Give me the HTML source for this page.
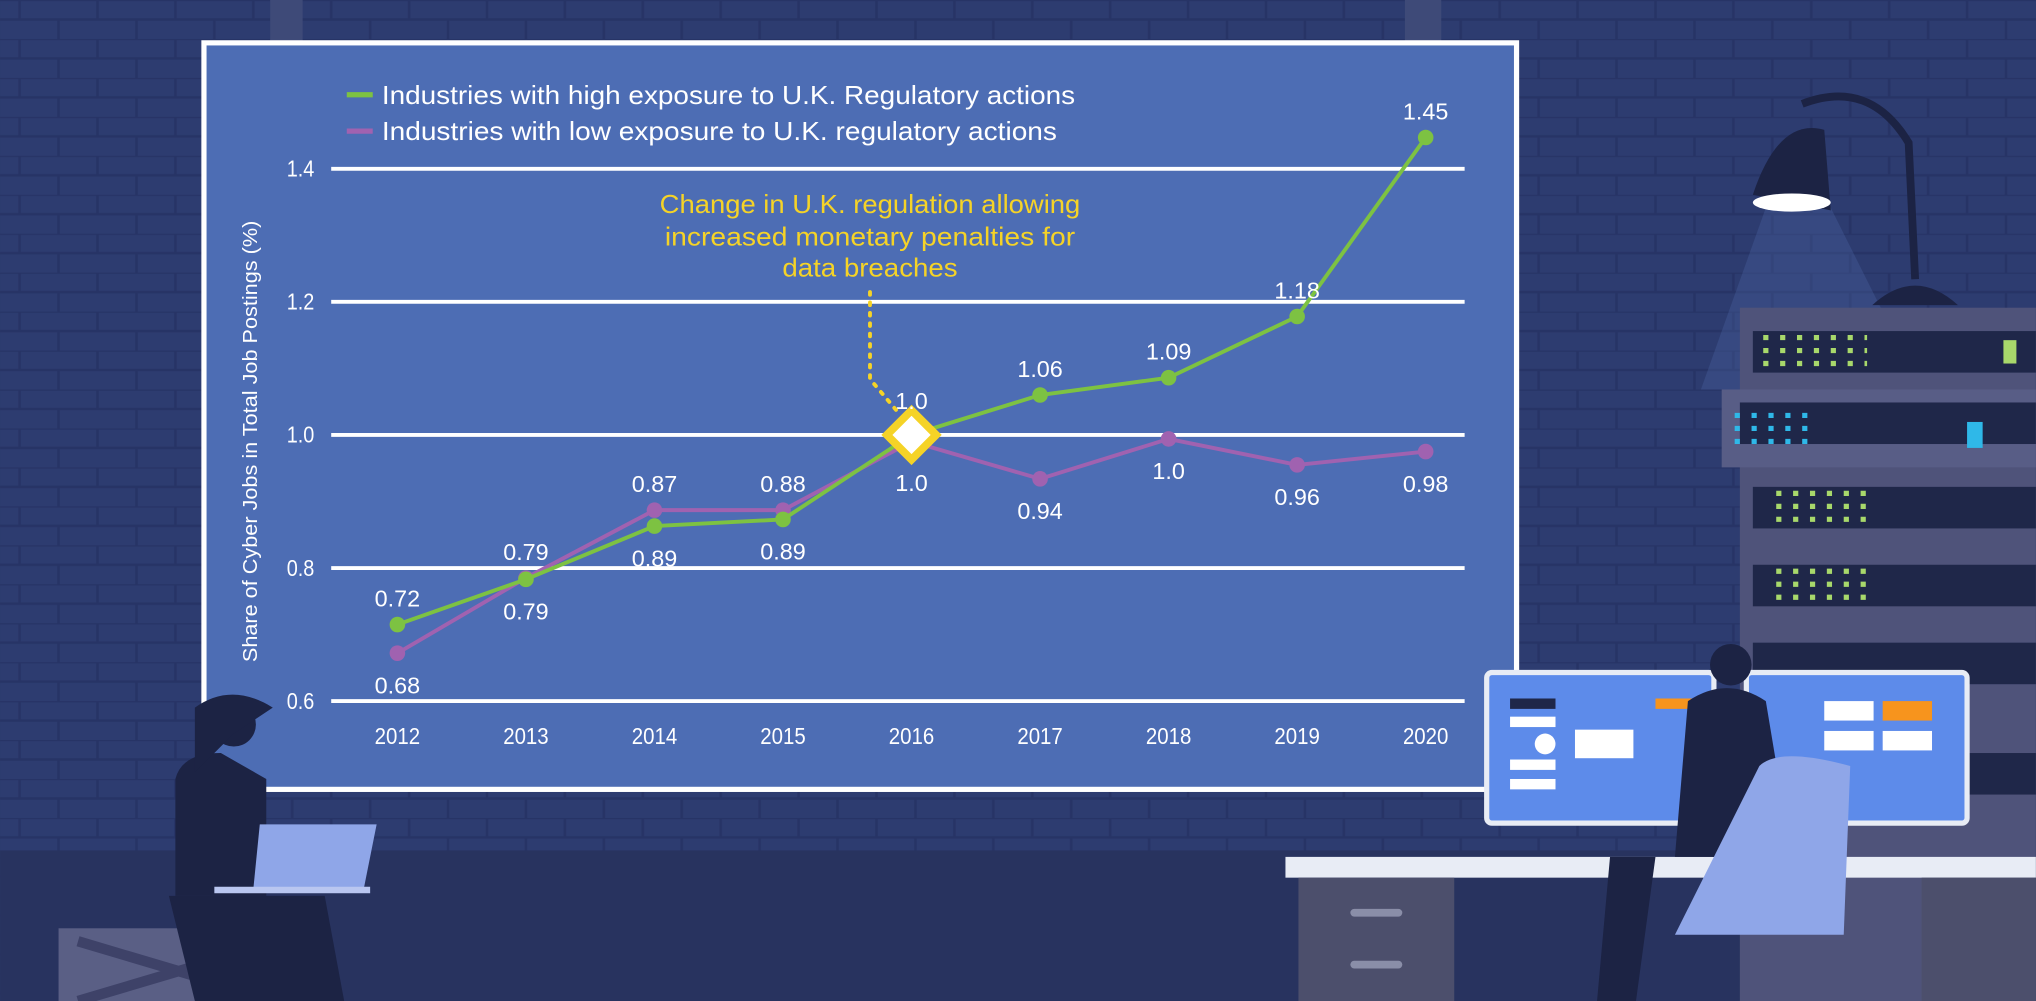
<!DOCTYPE html>
<html><head><meta charset="utf-8"><style>
html,body{margin:0;padding:0;background:#2a3868;}
svg{display:block;}
text{font-family:"Liberation Sans",sans-serif;}
</style></head><body>
<svg id="chart" width="2036" height="1001" viewBox="0 0 1568 771" xmlns="http://www.w3.org/2000/svg">
<defs>
<pattern id="bricks" width="60" height="30" patternUnits="userSpaceOnUse">
<rect width="60" height="30" fill="#2d3c70"/>
<path d="M0 0H60M0 15H60M15 0V15M45 15V30" stroke="#273466" stroke-width="2"/>
</pattern>
</defs>
<rect width="1568" height="771" fill="url(#bricks)"/>
<rect y="655" width="1568" height="116" fill="#28335f"/>
<rect x="208" y="0" width="25" height="34" fill="#3e4a78"/>
<rect x="1082" y="0" width="28" height="34" fill="#3e4a78"/>
<rect x="157" y="33" width="1011" height="575" fill="#4d6db4" stroke="#ffffff" stroke-width="4"/>
<g id="decor">
<path d="M1360 160 L1410 160 L1480 300 L1310 300 Z" fill="#4f6aa8" opacity="0.3"/>
<path d="M1388 80 Q1440 60 1470 110 L1475 215" fill="none" stroke="#1c2344" stroke-width="6"/>
<path d="M1350 150 Q1370 90 1405 100 L1410 162 Z" fill="#1c2344"/>
<ellipse cx="1380" cy="156" rx="30" ry="7" fill="#ffffff"/>
<path d="M1442 235 Q1475 205 1508 235 Z" fill="#1c2344"/>
<rect x="1340" y="237" width="228" height="534" fill="#4f537a"/>
<rect x="1326" y="300" width="242" height="60" fill="#585d86"/>
<rect x="1350" y="255" width="218" height="32" fill="#1f2749"/>
<rect x="1340" y="310" width="228" height="32" fill="#1f2749"/>
<rect x="1350" y="375" width="218" height="32" fill="#1f2749"/>
<rect x="1350" y="435" width="218" height="32" fill="#1f2749"/>
<rect x="1350" y="495" width="218" height="32" fill="#1f2749"/>
<rect x="1350" y="580" width="218" height="32" fill="#1f2749"/>
<path d="M1358 260h80M1358 270h80M1358 280h80M1368 380h70M1368 390h70M1368 400h70M1368 440h70M1368 450h70M1368 460h70" stroke="#a8d86b" stroke-width="4" stroke-dasharray="4 9"/>
<path d="M1336 320h60M1336 330h60M1336 340h60" stroke="#2fb8e8" stroke-width="4" stroke-dasharray="4 9"/>
<rect x="1543" y="262" width="10" height="18" fill="#a8d86b"/>
<rect x="1515" y="325" width="12" height="20" fill="#2fb8e8"/>
<rect x="990" y="660" width="578" height="16" fill="#e8ecf5"/>
<rect x="1000" y="676" width="120" height="95" fill="#4c4f6c"/>
<rect x="1040" y="700" width="40" height="6" rx="3" fill="#8a8ea8"/>
<rect x="1040" y="740" width="40" height="6" rx="3" fill="#8a8ea8"/>
<rect x="1480" y="676" width="88" height="95" fill="#4c4f6c"/>
<rect x="1145" y="518" width="175" height="116" rx="4" fill="#5d8bea" stroke="#e8ecf5" stroke-width="4"/>
<rect x="1345" y="518" width="170" height="116" rx="4" fill="#5d8bea" stroke="#e8ecf5" stroke-width="4"/>
<rect x="1163" y="538" width="35" height="8" fill="#1f2749"/>
<rect x="1163" y="552" width="35" height="8" fill="#fff"/><rect x="1163" y="585" width="35" height="8" fill="#fff"/><rect x="1163" y="600" width="35" height="8" fill="#fff"/>
<circle cx="1190" cy="573" r="8" fill="#fff"/>
<rect x="1213" y="562" width="45" height="22" fill="#fff"/><rect x="1275" y="538" width="35" height="8" fill="#f7941d"/>
<rect x="1405" y="540" width="38" height="15" fill="#fff"/><rect x="1450" y="540" width="38" height="15" fill="#f7941d"/>
<rect x="1405" y="563" width="38" height="15" fill="#fff"/><rect x="1450" y="563" width="38" height="15" fill="#fff"/>
<path d="M1300 540 Q1330 520 1360 540 L1380 660 L1290 660 Z" fill="#1c2344"/>
<circle cx="1333" cy="512" r="16" fill="#1c2344"/>
<path d="M1355 590 Q1370 575 1425 590 L1420 720 L1290 720 Z" fill="#8fa6e8"/>
<path d="M1240 660 L1230 771 L1260 771 L1275 660 Z" fill="#1c2344"/>
<rect x="45" y="715" width="185" height="56" fill="#5a5f85"/>
<path d="M60 725 L215 771 M215 725 L60 771" stroke="#3e4268" stroke-width="8"/>
<path d="M135 600 Q140 580 170 580 L205 600 L205 690 L135 690 Z" fill="#1c2344"/>
<circle cx="180" cy="558" r="17" fill="#1c2344"/>
<path d="M150 545 Q178 525 210 545 L180 565 L150 595 Z" fill="#1c2344"/>
<path d="M130 690 L250 690 L265 771 L150 771 Z" fill="#1c2344"/>
<path d="M200 635 L290 635 L280 685 L195 685 Z" fill="#8fa6e8"/>
<rect x="165" y="683" width="120" height="5" fill="#b9c6f0"/>
</g>
<g id="plot"></g>
<g>
<line x1="267" y1="73" x2="287" y2="73" stroke="#7dc242" stroke-width="4"/>
<text x="294" y="80" fill="#fff" font-size="20" textLength="534" lengthAdjust="spacingAndGlyphs">Industries with high exposure to U.K. Regulatory actions</text>
<line x1="267" y1="101" x2="287" y2="101" stroke="#a062b0" stroke-width="4"/>
<text x="294" y="108" fill="#fff" font-size="20" textLength="520" lengthAdjust="spacingAndGlyphs">Industries with low exposure to U.K. regulatory actions</text>
</g>
<text transform="translate(198,340) rotate(-90)" text-anchor="middle" fill="#fff" font-size="16" textLength="340" lengthAdjust="spacingAndGlyphs">Share of Cyber Jobs in Total Job Postings (%)</text>
<g fill="#f5d327" font-size="20" text-anchor="middle">
<text x="670" y="164" textLength="324" lengthAdjust="spacingAndGlyphs">Change in U.K. regulation allowing</text>
<text x="670" y="189" textLength="316" lengthAdjust="spacingAndGlyphs">increased monetary penalties for</text>
<text x="670" y="213" textLength="135" lengthAdjust="spacingAndGlyphs">data breaches</text>
<path d="M670 225 L670 292 L692 318" fill="none" stroke="#f5d327" stroke-width="3" stroke-dasharray="2 6" stroke-linecap="round"/>
</g>
</svg>
<script>
const years = ['2012','2013','2014','2015','2016','2017','2018','2019','2020'];
const highValues = [0.715, 0.783, 0.863, 0.873, 1.0, 1.06, 1.086, 1.178, 1.447];
const lowValues = [0.672, 0.785, 0.887, 0.887, 0.99, 0.934, 0.994, 0.955, 0.975];
const highLabels = ['0.72','0.79','0.89','0.89','1.0','1.06','1.09','1.18','1.45'];
const lowLabels = ['0.68','0.79','0.87','0.88','1.0','0.94','1.0','0.96','0.98'];
const yTicks = [0.6, 0.8, 1.0, 1.2, 1.4];
const yTickLabels = ['0.6','0.8','1.0','1.2','1.4'];
const NS='http://www.w3.org/2000/svg';
const plot=document.getElementById('plot');
function xs(i){return 306+i*99;}
function ys(v){return 540-(v-0.6)/0.2*102.5;}
function mk(tag,attrs,parent){const e=document.createElementNS(NS,tag);for(const k in attrs)e.setAttribute(k,attrs[k]);(parent||plot).appendChild(e);return e;}
yTicks.forEach((t,i)=>{
  const l=mk('line',{x1:255,x2:1128,y1:ys(t),y2:ys(t),stroke:'#fff','stroke-width':3});
  
  
  const tx=mk('text',{x:242,y:ys(t)+6,'text-anchor':'end',fill:'#fff','font-size':18,transform:`translate(${242*0.15},0) scale(0.85,1)`});
  tx.setAttribute('x',242/0.85-242*0.15/0.85);
  tx.textContent=yTickLabels[i];
  
  
});
years.forEach((y,i)=>{
  const tx=mk('text',{x:xs(i),y:573,'text-anchor':'middle',fill:'#fff','font-size':18,textLength:35,lengthAdjust:'spacingAndGlyphs'});
  tx.textContent=y;
  
  
});
function series(vals,color,name){
  const p=mk('polyline',{points:vals.map((v,i)=>xs(i)+','+ys(v)).join(' '),fill:'none',stroke:color,'stroke-width':3});
  
  
  vals.forEach((v,i)=>{
    const c=mk('circle',{cx:xs(i),cy:ys(v),r:6,fill:color});
    
    
  });
}
series(lowValues,'#a062b0','low-exposure');
series(highValues,'#7dc242','high-exposure');
const dx=xs(4),dy=ys(highValues[4]);
const d=mk('polygon',{points:`${dx},${dy-19} ${dx+19},${dy} ${dx},${dy+19} ${dx-19},${dy}`,fill:'#fff',stroke:'#f5d327','stroke-width':6});


years.forEach((y,i)=>{
  const topOffset = i===4?-20:-14;
  const topLab = (i===2||i===3)?lowLabels[i]:highLabels[i];
  const botLab = (i===2||i===3)?highLabels[i]:lowLabels[i];
  const topV = Math.max(highValues[i],lowValues[i]);
  const botV = Math.min(highValues[i],lowValues[i]);
  let t=mk('text',{x:xs(i),y:ys(topV)+topOffset,'text-anchor':'middle',fill:'#fff','font-size':18});
  t.textContent=topLab;
  
  
  let b=mk('text',{x:xs(i),y:ys(botV)+(i===4?38:31),'text-anchor':'middle',fill:'#fff','font-size':18});
  b.textContent=botLab;
  
  
});
</script>
</body></html>
